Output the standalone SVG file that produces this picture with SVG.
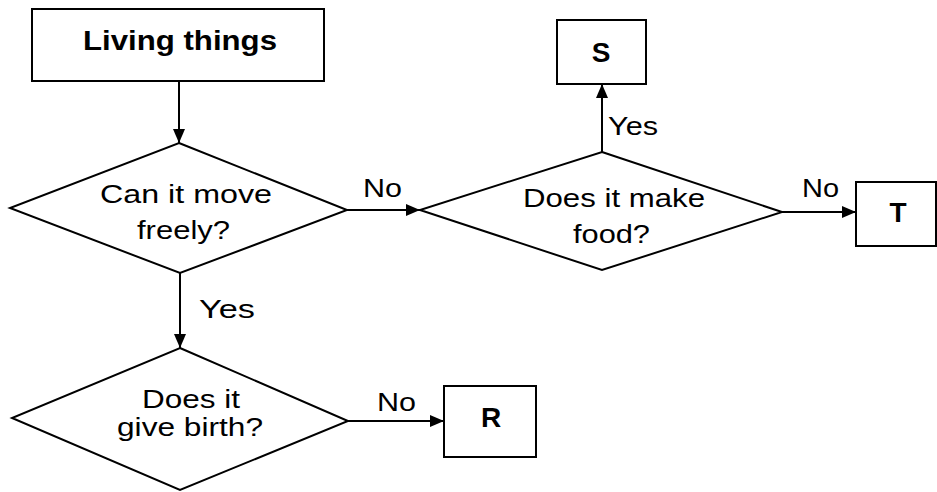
<svg xmlns="http://www.w3.org/2000/svg" width="937" height="492" viewBox="0 0 937 492">
<style>
.shape{fill:#fff;stroke:#000;stroke-width:2}
.conn{fill:none;stroke:#000;stroke-width:2;marker-end:url(#arr)}
.t{font-family:"Liberation Sans",Arial,sans-serif;font-size:26px;fill:#000}
.b{font-family:"Liberation Sans",Arial,sans-serif;font-size:28px;font-weight:bold;fill:#000}
</style>
<defs>
<marker id="arr" markerUnits="userSpaceOnUse" markerWidth="14" markerHeight="12" refX="14" refY="6" orient="auto">
<path d="M0,0 L14,6 L0,12 Z" fill="#000"/>
</marker>
</defs>
<rect width="937" height="492" fill="#fff"/>
<g id="connectors">
<line class="conn" x1="179" y1="81" x2="179" y2="143"/>
<line class="conn" x1="347" y1="210" x2="420" y2="210"/>
<line class="conn" x1="602" y1="152" x2="602" y2="84"/>
<line class="conn" x1="782" y1="212" x2="856" y2="212"/>
<line class="conn" x1="180" y1="273" x2="180" y2="348"/>
<line class="conn" x1="348" y1="421" x2="444" y2="421"/>
<text class="t" x="363" y="197" textLength="39" lengthAdjust="spacingAndGlyphs">No</text>
<text class="t" x="608" y="135" textLength="50" lengthAdjust="spacingAndGlyphs">Yes</text>
<text class="t" x="802" y="197" textLength="37" lengthAdjust="spacingAndGlyphs">No</text>
<text class="t" x="199" y="318" textLength="56" lengthAdjust="spacingAndGlyphs">Yes</text>
<text class="t" x="377" y="411" textLength="39" lengthAdjust="spacingAndGlyphs">No</text>
</g>
<g id="living">
<rect class="shape" x="32" y="9" width="292" height="72"/>
<text class="b" x="83" y="50" textLength="194" lengthAdjust="spacingAndGlyphs">Living things</text>
</g>
<g id="move">
<polygon class="shape" points="179,143 347,210 180,273 10,208"/>
<text class="t" x="100" y="203" textLength="172" lengthAdjust="spacingAndGlyphs">Can it move</text>
<text class="t" x="137" y="239" textLength="93" lengthAdjust="spacingAndGlyphs">freely?</text>
</g>
<g id="food">
<polygon class="shape" points="602,152 782,212 602,270 420,210"/>
<text class="t" x="523" y="207" textLength="182" lengthAdjust="spacingAndGlyphs">Does it make</text>
<text class="t" x="573" y="243" textLength="77" lengthAdjust="spacingAndGlyphs">food?</text>
</g>
<g id="birth">
<polygon class="shape" points="180,348 348,421 180,490 12,418"/>
<text class="t" x="142" y="408" textLength="98" lengthAdjust="spacingAndGlyphs">Does it</text>
<text class="t" x="117" y="436" textLength="146" lengthAdjust="spacingAndGlyphs">give birth?</text>
</g>
<g id="S">
<rect class="shape" x="557" y="20" width="89" height="64"/>
<text class="b" x="601" y="62" text-anchor="middle">S</text>
</g>
<g id="T">
<rect class="shape" x="856" y="182" width="80" height="64"/>
<text class="b" x="898" y="222" text-anchor="middle">T</text>
</g>
<g id="R">
<rect class="shape" x="444" y="386" width="92" height="71"/>
<text class="b" x="491" y="427" text-anchor="middle">R</text>
</g>
</svg>
